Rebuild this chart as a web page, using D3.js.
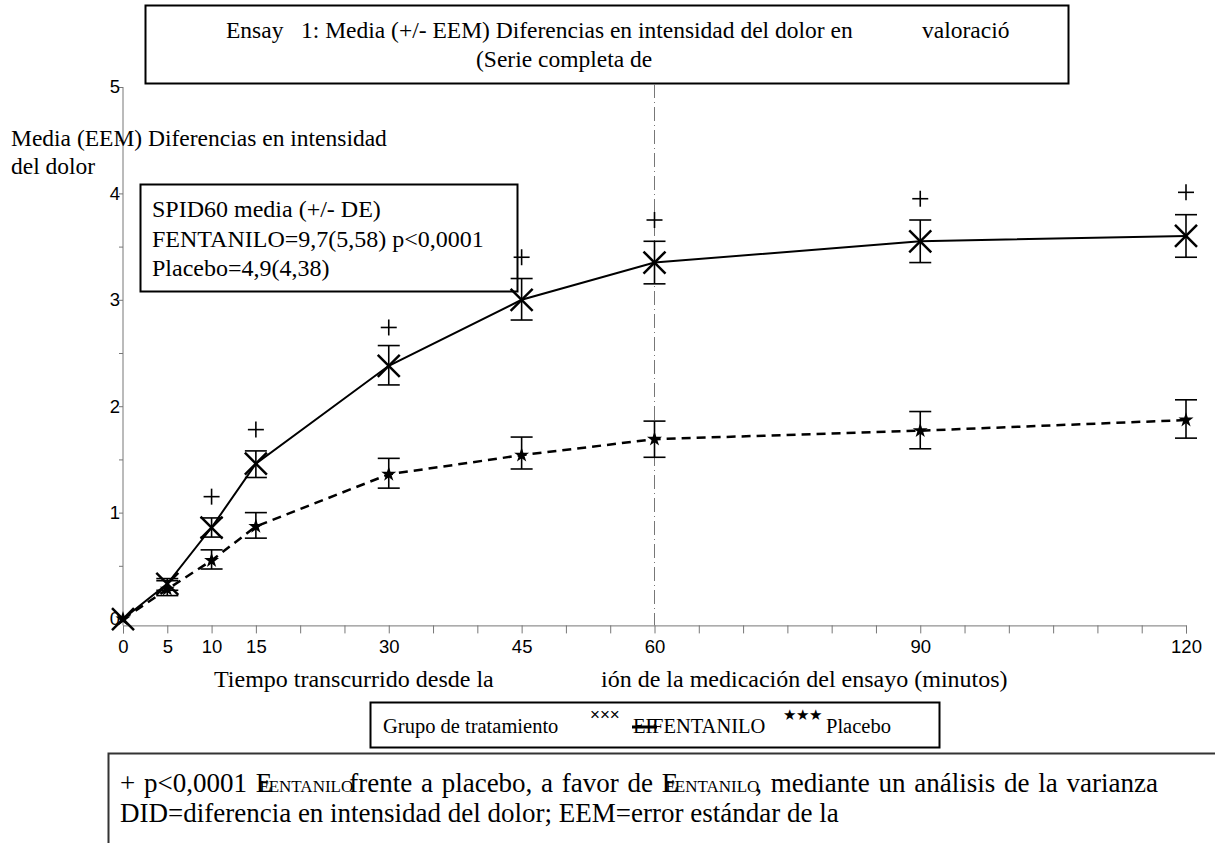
<!DOCTYPE html>
<html>
<head>
<meta charset="utf-8">
<script src="https://cdn.jsdelivr.net/npm/d3@7"></script>
<style>
body { margin: 0; background: #fff; }
text { white-space: pre; }
</style>
</head>
<body>
<div class="chart"></div>
<script>
// minutes since dose
var times = [0, 5, 10, 15, 30, 45, 60, 90, 120];
var tickLabels = [0, 5, 10, 15, 30, 45, 60, 90, 120];
var yTicks = [0, 1, 2, 3, 4, 5];

// FENTANILO mean and SEM limits
var fentMean = [0, 0.33, 0.86, 1.46, 2.38, 3.00, 3.35, 3.55, 3.60];
var fentLow  = [0, 0.27, 0.77, 1.33, 2.20, 2.81, 3.15, 3.35, 3.40];
var fentHigh = [0, 0.38, 0.95, 1.58, 2.57, 3.20, 3.55, 3.75, 3.80];

// Placebo mean and SEM limits
var placMean = [0, 0.28, 0.55, 0.87, 1.36, 1.54, 1.69, 1.77, 1.87];
var placLow  = [0, 0.22, 0.47, 0.76, 1.23, 1.41, 1.52, 1.60, 1.70];
var placHigh = [0, 0.36, 0.65, 1.00, 1.51, 1.71, 1.86, 1.95, 2.06];

// "+" significance markers (p<0,0001)
var plusTimes = [10, 15, 30, 45, 60, 90, 120];
var plusY = [1.15, 1.78, 2.74, 3.40, 3.75, 3.95, 4.01];

var titleLine1 = "Ensay   1: Media (+/- EEM) Diferencias en intensidad del dolor en";
var titleLine1b = "valoració";
var titleLine2 = "(Serie completa de";
var yLabel = ["Media (EEM) Diferencias en intensidad", "del dolor"];
var xLabelA = "Tiempo transcurrido desde la";
var xLabelB = "ión de la medicación del ensayo (minutos)";
var boxLines = ["SPID60 media (+/- DE)", "FENTANILO=9,7(5,58) p<0,0001", "Placebo=4,9(4,38)"];

var SERIF = "'Liberation Serif', 'Times New Roman', 'DejaVu Serif', serif";
var SANS = "'Liberation Sans', Arial, sans-serif";

var w = 1215, h = 843;
var svg = d3.select(".chart").append("svg")
    .attr("width", w)
    .attr("height", h);

function label(xp, yp, str, size, fam) {
    return svg.append("text")
        .attr("x", xp).attr("y", yp)
        .attr("font-family", fam || SERIF)
        .attr("font-size", size)
        .attr("fill", "#000")
        .text(str);
}

var x = d3.scaleLinear().domain([0, 120]).range([123, 1186]);
var y = d3.scaleLinear().domain([-0.06, 5]).range([625.4, 87]);

// title box
svg.append("rect")
    .attr("x", 145.5).attr("y", 5.5).attr("width", 923).attr("height", 78)
    .attr("fill", "none").attr("stroke", "#000").attr("stroke-width", 2);
label(226, 38, titleLine1, 23.5);
label(922, 38, titleLine1b, 23.5);
label(476, 67, titleLine2, 23.5);

// reference line at 60 minutes
svg.append("line")
    .attr("x1", x(60)).attr("x2", x(60))
    .attr("y1", 84).attr("y2", y.range()[0])
    .attr("stroke", "#777").attr("stroke-width", 1)
    .attr("stroke-dasharray", "14,4,1,4");

// axes
var xAxis = d3.axisBottom(x)
    .tickValues(d3.range(0, 121, 5))
    .tickSize(8)
    .tickFormat(function(d) { return tickLabels.indexOf(d) >= 0 ? d : ""; });
var gx = svg.append("g")
    .attr("transform", "translate(0," + y.range()[0] + ")")
    .call(xAxis)
    .attr("font-family", SANS).attr("font-size", 18.5);
gx.select(".domain").attr("stroke", "#777");
gx.selectAll(".tick line").attr("stroke", "#777");
gx.selectAll(".tick text").attr("fill", "#000").attr("y", 14);

var yAxis = d3.axisLeft(y)
    .tickValues(d3.range(0, 5.01, 0.5))
    .tickSize(4)
    .tickFormat(function(d) { return yTicks.indexOf(d) >= 0 ? d : ""; });
var gy = svg.append("g")
    .attr("transform", "translate(" + x(0) + ",0)")
    .call(yAxis)
    .attr("font-family", SANS).attr("font-size", 18.5);
gy.select(".domain").attr("stroke", "#777").attr("d", "M0," + y.range()[0] + "V" + y(5));
gy.selectAll(".tick line").attr("stroke", "#777");
gy.selectAll(".tick text").attr("fill", "#000").attr("x", -3);

// axis titles
label(11, 146, yLabel[0], 23.5);
label(11, 174, yLabel[1], 23.5);
label(214, 687, xLabelA, 24);
label(601, 687, xLabelB, 24);

// SPID60 box
svg.append("rect")
    .attr("x", 140.5).attr("y", 184.5).attr("width", 377).attr("height", 107)
    .attr("fill", "#fff").attr("stroke", "#000").attr("stroke-width", 2);
boxLines.forEach(function(d, i) { label(152, 217 + i * 29.5, d, 24); });

// lines
var fentData = times.map(function(t, i) { return {t: t, m: fentMean[i], lo: fentLow[i], hi: fentHigh[i]}; });
var placData = times.map(function(t, i) { return {t: t, m: placMean[i], lo: placLow[i], hi: placHigh[i]}; });

var line = d3.line()
    .x(function(d) { return x(d.t); })
    .y(function(d) { return y(d.m); });

svg.append("path").datum(placData)
    .attr("d", line).attr("fill", "none")
    .attr("stroke", "#000").attr("stroke-width", 2.5)
    .attr("stroke-dasharray", "9,6");
svg.append("path").datum(fentData)
    .attr("d", line).attr("fill", "none")
    .attr("stroke", "#000").attr("stroke-width", 2);

// error bars
function errorBars(data, cls) {
    var g = svg.append("g").attr("class", cls)
        .selectAll("g").data(data.filter(function(d) { return d.t > 0; }))
        .enter().append("g")
        .attr("stroke", "#000").attr("stroke-width", 1.6);
    g.append("line")
        .attr("x1", function(d) { return x(d.t); }).attr("x2", function(d) { return x(d.t); })
        .attr("y1", function(d) { return y(d.lo); }).attr("y2", function(d) { return y(d.hi); });
    g.append("line")
        .attr("x1", function(d) { return x(d.t) - 11; }).attr("x2", function(d) { return x(d.t) + 11; })
        .attr("y1", function(d) { return y(d.lo); }).attr("y2", function(d) { return y(d.lo); });
    g.append("line")
        .attr("x1", function(d) { return x(d.t) - 11; }).attr("x2", function(d) { return x(d.t) + 11; })
        .attr("y1", function(d) { return y(d.hi); }).attr("y2", function(d) { return y(d.hi); });
}
errorBars(placData, "plac-err");
errorBars(fentData, "fent-err");

// placebo stars
svg.append("g").selectAll("path").data(placData).enter().append("path")
    .attr("d", d3.symbol().type(d3.symbolStar).size(70))
    .attr("transform", function(d) { return "translate(" + x(d.t) + "," + y(d.m) + ")"; })
    .attr("fill", "#000");

// fentanilo crosses
var cross = svg.append("g").selectAll("g").data(fentData).enter().append("g")
    .attr("transform", function(d) { return "translate(" + x(d.t) + "," + y(d.m) + ")"; })
    .attr("stroke", "#000").attr("stroke-width", 2.5);
cross.append("line").attr("x1", -11).attr("y1", -11).attr("x2", 11).attr("y2", 11);
cross.append("line").attr("x1", -11).attr("y1", 11).attr("x2", 11).attr("y2", -11);

// plus markers
var plus = svg.append("g").selectAll("g").data(plusTimes).enter().append("g")
    .attr("transform", function(d, i) { return "translate(" + x(d) + "," + y(plusY[i]) + ")"; })
    .attr("stroke", "#000").attr("stroke-width", 1.6);
plus.append("line").attr("x1", -8).attr("x2", 8).attr("y1", 0).attr("y2", 0);
plus.append("line").attr("x1", 0).attr("x2", 0).attr("y1", -8).attr("y2", 8);

// legend box
svg.append("rect")
    .attr("x", 370.5).attr("y", 702.5).attr("width", 569).attr("height", 45)
    .attr("fill", "none").attr("stroke", "#000").attr("stroke-width", 2);
label(383, 733, "Grupo de tratamiento", 20.5);
label(590, 720, "×××", 17, SANS);
label(633, 733, "EF", 20.5);
svg.append("line").attr("x1", 632).attr("x2", 657).attr("y1", 727).attr("y2", 727)
    .attr("stroke", "#000").attr("stroke-width", 3);
label(652, 733, "FENTANILO", 20.5);
label(783, 720, "★★★", 15, SANS);
label(826, 733, "Placebo", 20.5);

// footnote box
svg.append("path")
    .attr("d", "M1215,753.5H108.5V843")
    .attr("fill", "none").attr("stroke", "#333").attr("stroke-width", 2);
var f1 = label(120, 792, "", 27).attr("word-spacing", 2);
f1.append("tspan").text("+ p<0,0001 ");
f1.append("tspan").text("E");
f1.append("tspan").attr("dx", -13).attr("font-size", 17).text("FENTANILO");
f1.append("tspan").attr("dx", -4).text("frente a placebo, a favor de ");
f1.append("tspan").text("E");
f1.append("tspan").attr("dx", -13).attr("font-size", 17).text("FENTANILO");
f1.append("tspan").attr("dx", -4).text(", mediante un análisis de la varianza");
label(120, 822, "DID=diferencia en intensidad del dolor; EEM=error estándar de la", 27);
</script>
</body>
</html>
